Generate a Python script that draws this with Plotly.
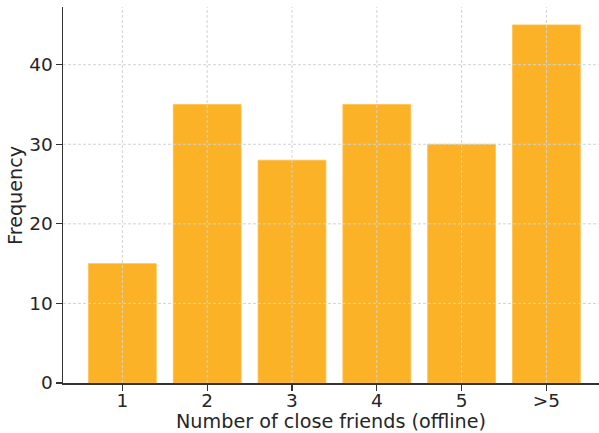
import plotly.graph_objects as go

categories = ["1", "2", "3", "4", "5", ">5"]
frequency = [15, 35, 28, 35, 30, 45]
y_ticks = [0, 10, 20, 30, 40]

positions = list(range(len(categories)))
x_range = [-0.7, 5.62]
y_range = [0, 47.25]

fig = go.Figure(
    go.Bar(
        x=positions,
        y=frequency,
        width=0.8,
        marker=dict(color="#FBB226", line=dict(color="#FCC050", width=0.8)),
        hoverinfo="skip",
    )
)

grid_style = dict(color="#d3d3d3", width=1, dash="3px,2px")
shapes = []
for p in positions:
    shapes.append(dict(type="line", xref="x", yref="paper", x0=p, x1=p, y0=0, y1=1,
                       line=grid_style, layer="above"))
for t in y_ticks[1:]:
    shapes.append(dict(type="line", xref="paper", yref="y", x0=0, x1=1, y0=t, y1=t,
                       line=grid_style, layer="above"))

font_family = "DejaVu Sans"
fig.update_layout(
    width=599,
    height=433,
    margin=dict(l=63, r=0, t=7, b=50),
    plot_bgcolor="white",
    paper_bgcolor="white",
    showlegend=False,
    font=dict(family=font_family, size=18.5, color="#262626"),
    shapes=shapes,
    annotations=[
        dict(text="Number of close friends (offline)", xref="paper", yref="paper",
             x=0.5, y=-0.1032, xanchor="center", yanchor="middle", showarrow=False,
             font=dict(size=19.2)),
        dict(text="Frequency", xref="paper", yref="paper", textangle=-90,
             x=-0.0896, y=0.5, xanchor="center", yanchor="middle", showarrow=False,
             font=dict(size=19.2)),
    ],
)
common_axis = dict(
    showgrid=False,
    showline=True,
    linecolor="#333333",
    linewidth=1.5,
    ticks="outside",
    ticklen=6,
    tickcolor="#333333",
    tickwidth=1.2,
    zeroline=False,
    automargin=False,
    layer="above traces",
    fixedrange=True,
)
fig.update_xaxes(
    range=x_range,
    tickmode="array",
    tickvals=positions,
    ticktext=categories,
    ticklabelstandoff=-6,
    **common_axis,
)
fig.update_yaxes(
    range=y_range,
    tickmode="array",
    tickvals=y_ticks,
    ticklabelstandoff=-1,
    **common_axis,
)

fig.write_html(
    "out.html",
    config={"displayModeBar": False, "staticPlot": True},
    post_script="document.body.style.margin='0';document.body.style.overflow='hidden';",
)
